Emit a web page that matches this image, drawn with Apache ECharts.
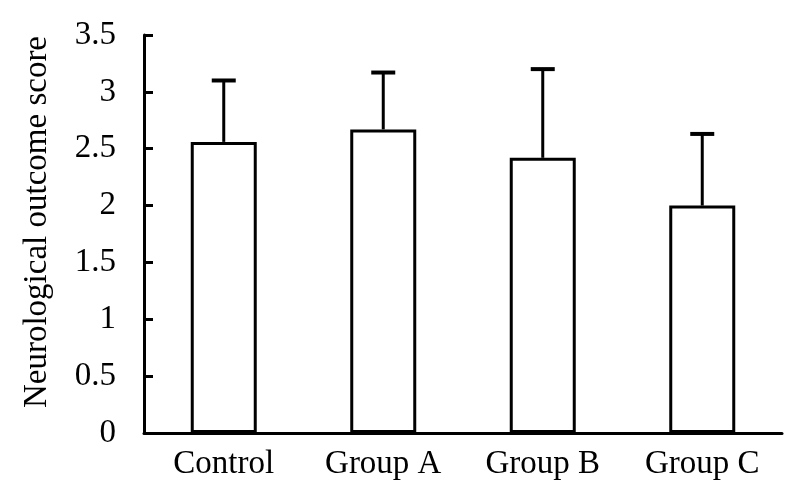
<!DOCTYPE html>
<html>
<head>
<meta charset="utf-8">
<script src="https://cdn.jsdelivr.net/npm/echarts@6/dist/echarts.min.js"></script>
<style>html,body{margin:0;padding:0;background:#fff;}#c{width:800px;height:496px;}</style>
</head>
<body>
<div id="c"></div>
<script>
const categories = ['Control', 'Group A', 'Group B', 'Group C'];
const means = [2.56, 2.67, 2.42, 2.00];
const errors = [0.54, 0.50, 0.78, 0.63];
const yTicks = [0, 0.5, 1, 1.5, 2, 2.5, 3, 3.5];
const yTitle = 'Neurological outcome score';

const font = 'Liberation Serif';
const chart = echarts.init(document.getElementById('c'), null, {renderer: 'canvas'});
chart.setOption({
  animation: false,
  backgroundColor: '#fff',
  grid: {left: 144, right: 18, top: 35, bottom: 63, containLabel: false},
  graphic: [{
    type: 'text',
    x: 37, y: 222,
    rotation: Math.PI / 2,
    style: {text: yTitle, fill: '#000', font: '33px "Liberation Serif"', align: 'center', verticalAlign: 'middle'}
  }],
  xAxis: {
    type: 'category',
    data: categories,
    axisLine: {lineStyle: {color: '#000', width: 3}},
    axisTick: {inside: true, length: 8, lineStyle: {color: '#000', width: 3}},
    axisLabel: {color: '#000', fontFamily: font, fontSize: 33, margin: 15}
  },
  yAxis: {
    type: 'value',
    min: 0, max: 3.5, interval: 0.5,
    axisLine: {show: true, lineStyle: {color: '#000', width: 3}},
    axisTick: {show: true, inside: true, length: 9, lineStyle: {color: '#000', width: 3}},
    splitLine: {show: false},
    axisLabel: {color: '#000', fontFamily: font, fontSize: 33, margin: 28,
      formatter: v => yTicks.includes(v) ? String(v) : ''}
  },
  series: [
    {
      type: 'bar',
      data: means,
      barWidth: 66,
      itemStyle: {color: '#fff', borderColor: '#000', borderWidth: 3}
    },
    {
      type: 'custom',
      data: means.map((m, i) => [i, m, m + errors[i]]),
      z: 1,
      renderItem: function (params, api) {
        const i = api.value(0);
        const lo = api.coord([i, api.value(1)]);
        const hi = api.coord([i, api.value(2)]);
        const half = 12;
        return {
          type: 'group',
          children: [
            {type: 'line', shape: {x1: lo[0], y1: lo[1], x2: hi[0], y2: hi[1]}, style: {stroke: '#000', lineWidth: 3}},
            {type: 'line', shape: {x1: hi[0] - half, y1: hi[1], x2: hi[0] + half, y2: hi[1]}, style: {stroke: '#000', lineWidth: 4}}
          ]
        };
      }
    }
  ]
});
</script>
</body>
</html>
